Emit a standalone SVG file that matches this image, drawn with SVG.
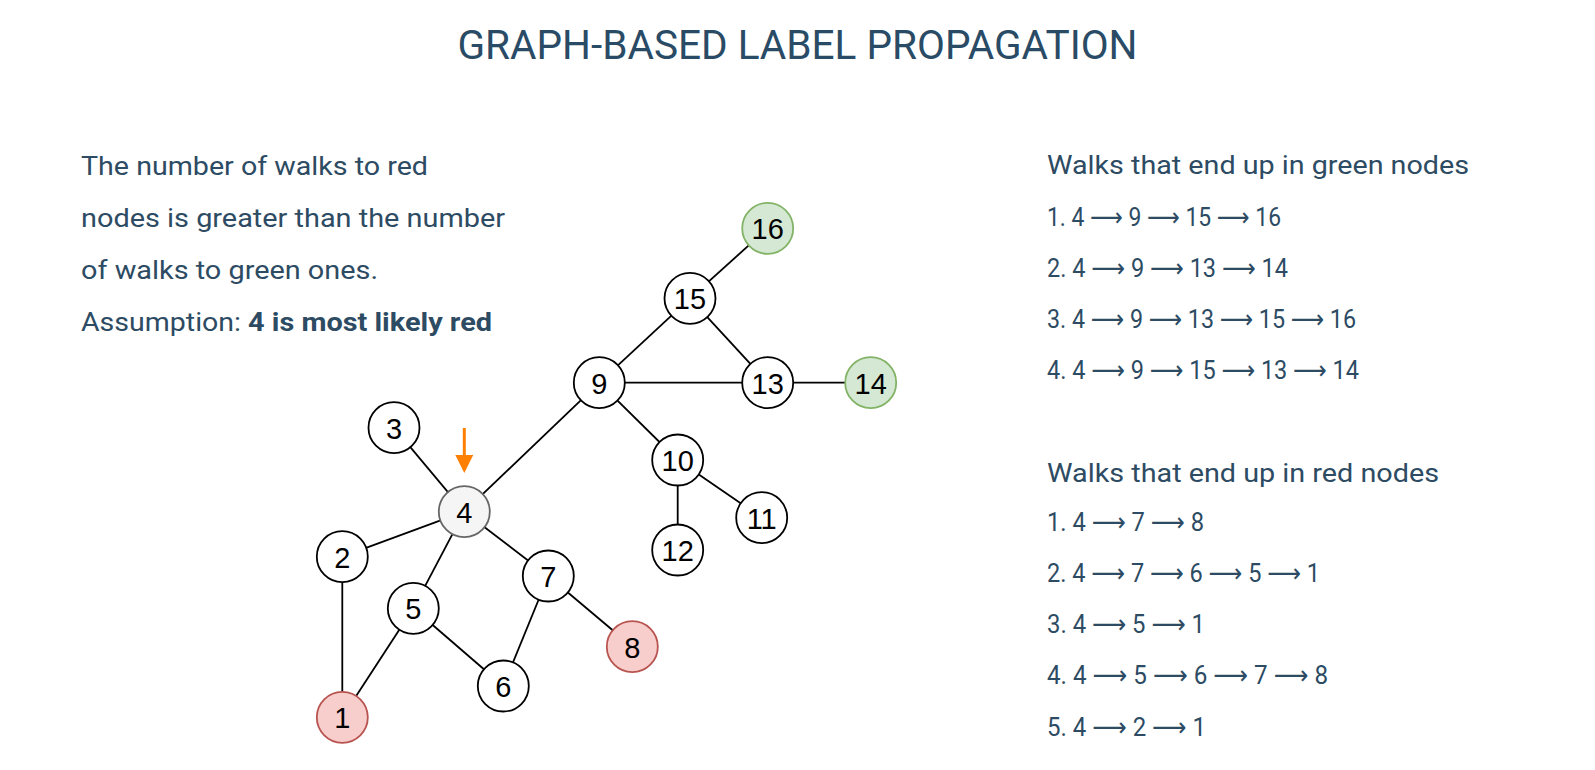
<svg xmlns="http://www.w3.org/2000/svg" width="1595" height="770" viewBox="0 0 1595 770">
<style>
.title{font-family:Roboto,"Liberation Sans",sans-serif;font-size:40px;fill:#2a4b66;}
.txt{font-family:Roboto,"DejaVu Sans",sans-serif;font-size:26px;fill:#2d4b63;}
.b{font-weight:bold;}
.node circle{fill:#ffffff;stroke:#000000;stroke-width:1.8;}
.node text{font-family:"Liberation Sans",Arial,sans-serif;font-size:29px;fill:#000000;text-anchor:middle;dominant-baseline:central;}
.node.red circle{fill:#f8cecc;stroke:#b85450;}
.node.green circle{fill:#d5e8d4;stroke:#82b366;}
.node.start circle{fill:#f5f5f5;stroke:#666666;}
.edges line{stroke:#000000;stroke-width:1.8;}
.edges line.arrow{stroke:#ff8000;stroke-width:3;}
</style>
<defs>
<marker id="ah" markerWidth="6" markerHeight="6" refX="5" refY="3" orient="auto" markerUnits="strokeWidth"><path d="M0,0 L6,3 L0,6 Z" fill="#ff8000"/></marker>
</defs>
<rect width="1595" height="770" fill="#ffffff"/>
<text class="title" x="797.5" y="59" text-anchor="middle" textLength="680" lengthAdjust="spacingAndGlyphs">GRAPH-BASED LABEL PROPAGATION</text>

<g id="left-text">
<text class="txt" x="81" y="175" textLength="347" lengthAdjust="spacingAndGlyphs">The number of walks to red</text>
<text class="txt" x="81" y="227" textLength="424" lengthAdjust="spacingAndGlyphs">nodes is greater than the number</text>
<text class="txt" x="81" y="279" textLength="297" lengthAdjust="spacingAndGlyphs">of walks to green ones.</text>
<text class="txt" x="81" y="331"><tspan textLength="160" lengthAdjust="spacingAndGlyphs">Assumption:</tspan><tspan class="b" x="248" textLength="244" lengthAdjust="spacingAndGlyphs">4 is most likely red</tspan></text>
</g>

<g id="right-text">
<text class="txt" x="1047" y="174" textLength="422" lengthAdjust="spacingAndGlyphs">Walks that end up in green nodes</text>
<text class="txt" x="1047" y="226" textLength="234" lengthAdjust="spacingAndGlyphs">1. 4 ⟶ 9 ⟶ 15 ⟶ 16</text>
<text class="txt" x="1047" y="277" textLength="241" lengthAdjust="spacingAndGlyphs">2. 4 ⟶ 9 ⟶ 13 ⟶ 14</text>
<text class="txt" x="1047" y="328" textLength="309" lengthAdjust="spacingAndGlyphs">3. 4 ⟶ 9 ⟶ 13 ⟶ 15 ⟶ 16</text>
<text class="txt" x="1047" y="379" textLength="312" lengthAdjust="spacingAndGlyphs">4. 4 ⟶ 9 ⟶ 15 ⟶ 13 ⟶ 14</text>
<text class="txt" x="1047" y="482" textLength="392" lengthAdjust="spacingAndGlyphs">Walks that end up in red nodes</text>
<text class="txt" x="1047" y="531" textLength="157" lengthAdjust="spacingAndGlyphs">1. 4 ⟶ 7 ⟶ 8</text>
<text class="txt" x="1047" y="582" textLength="273" lengthAdjust="spacingAndGlyphs">2. 4 ⟶ 7 ⟶ 6 ⟶ 5 ⟶ 1</text>
<text class="txt" x="1047" y="633" textLength="158" lengthAdjust="spacingAndGlyphs">3. 4 ⟶ 5 ⟶ 1</text>
<text class="txt" x="1047" y="684" textLength="281" lengthAdjust="spacingAndGlyphs">4. 4 ⟶ 5 ⟶ 6 ⟶ 7 ⟶ 8</text>
<text class="txt" x="1047" y="736" textLength="159" lengthAdjust="spacingAndGlyphs">5. 4 ⟶ 2 ⟶ 1</text>
</g>

<g id="connectors" class="edges">
<line x1="767.7" y1="228.3" x2="690" y2="298.3"/>
<line x1="690" y1="298.3" x2="599.3" y2="382.7"/>
<line x1="690" y1="298.3" x2="767.7" y2="382.7"/>
<line x1="599.3" y1="382.7" x2="767.7" y2="382.7"/>
<line x1="767.7" y1="382.7" x2="870.7" y2="382.7"/>
<line x1="599.3" y1="382.7" x2="464.3" y2="511.7"/>
<line x1="599.3" y1="382.7" x2="677.7" y2="460"/>
<line x1="677.7" y1="460" x2="761.7" y2="517.7"/>
<line x1="677.7" y1="460" x2="677.7" y2="550"/>
<line x1="394" y1="427.7" x2="464.3" y2="511.7"/>
<line x1="464.3" y1="511.7" x2="342.3" y2="556.7"/>
<line x1="464.3" y1="511.7" x2="413.3" y2="608.3"/>
<line x1="464.3" y1="511.7" x2="548.3" y2="576"/>
<line x1="342.3" y1="556.7" x2="342.3" y2="717.3"/>
<line x1="413.3" y1="608.3" x2="342.3" y2="717.3"/>
<line x1="413.3" y1="608.3" x2="503.3" y2="686"/>
<line x1="548.3" y1="576" x2="503.3" y2="686"/>
<line x1="548.3" y1="576" x2="632.3" y2="646.7"/>
<line class="arrow" x1="464.3" y1="428" x2="464.3" y2="470" marker-end="url(#ah)"/>
</g>

<g id="n1" class="node red"><circle cx="342.3" cy="717.3" r="25.5"/><text x="342.3" y="718">1</text></g>
<g id="n2" class="node"><circle cx="342.3" cy="556.7" r="25.5"/><text x="342.3" y="557.5">2</text></g>
<g id="n3" class="node"><circle cx="394" cy="427.7" r="25.5"/><text x="394" y="428.5">3</text></g>
<g id="n4" class="node start"><circle cx="464.3" cy="511.7" r="25.5"/><text x="464.3" y="512.5">4</text></g>
<g id="n5" class="node"><circle cx="413.3" cy="608.3" r="25.5"/><text x="413.3" y="609">5</text></g>
<g id="n6" class="node"><circle cx="503.3" cy="686" r="25.5"/><text x="503.3" y="687">6</text></g>
<g id="n7" class="node"><circle cx="548.3" cy="576" r="25.5"/><text x="548.3" y="577">7</text></g>
<g id="n8" class="node red"><circle cx="632.3" cy="646.7" r="25.5"/><text x="632.3" y="647.5">8</text></g>
<g id="n9" class="node"><circle cx="599.3" cy="382.7" r="25.5"/><text x="599.3" y="383.5">9</text></g>
<g id="n10" class="node"><circle cx="677.7" cy="460" r="25.5"/><text x="677.7" y="461">10</text></g>
<g id="n11" class="node"><circle cx="761.7" cy="517.7" r="25.5"/><text x="761.7" y="518.5">11</text></g>
<g id="n12" class="node"><circle cx="677.7" cy="550" r="25.5"/><text x="677.7" y="551">12</text></g>
<g id="n13" class="node"><circle cx="767.7" cy="382.7" r="25.5"/><text x="767.7" y="383.5">13</text></g>
<g id="n14" class="node green"><circle cx="870.7" cy="382.7" r="25.5"/><text x="870.7" y="383.5">14</text></g>
<g id="n15" class="node"><circle cx="690" cy="298.3" r="25.5"/><text x="690" y="299">15</text></g>
<g id="n16" class="node green"><circle cx="767.7" cy="228.3" r="25.5"/><text x="767.7" y="229">16</text></g>
</svg>
